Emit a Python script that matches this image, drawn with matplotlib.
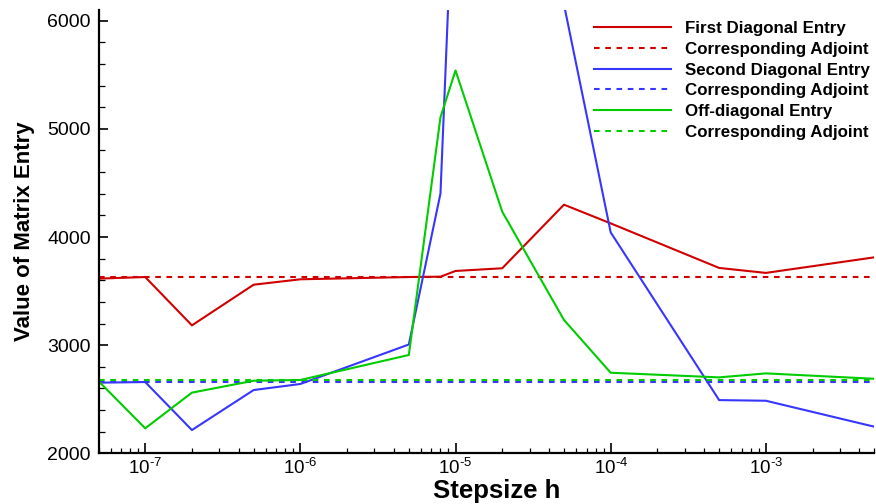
import matplotlib
matplotlib.use("Agg")
import matplotlib.pyplot as plt
from matplotlib.ticker import FixedLocator, FixedFormatter, LogLocator, NullFormatter, MultipleLocator

# ---- data ----
stepsize = [5e-8, 1e-7, 2e-7, 5e-7, 1e-6, 5e-6, 8e-6, 1e-5, 2e-5, 5e-5, 1e-4, 5e-4, 1e-3, 5e-3]
first_diag = [3615, 3630, 3183, 3559, 3609, 3630, 3633, 3686, 3711, 4299, 4126, 3714, 3668, 3812]
second_diag = [2653, 2659, 2215, 2585, 2641, 3006, 4403, 7800, 9000, 6150, 4043, 2492, 2486, 2246]
off_diag = [2668, 2231, 2561, 2671, 2678, 2909, 5108, 5540, 4234, 3233, 2745, 2702, 2739, 2689]
first_adjoint = 3630
second_adjoint = 2662
off_adjoint = 2678

labels = ["First Diagonal Entry", "Corresponding Adjoint",
          "Second Diagonal Entry", "Corresponding Adjoint",
          "Off-diagonal Entry", "Corresponding Adjoint"]
xtick_vals = [1e-7, 1e-6, 1e-5, 1e-4, 1e-3]
xtick_labels = [r"$\mathregular{10^{\text{-}7}}$", r"$\mathregular{10^{\text{-}6}}$", r"$\mathregular{10^{\text{-}5}}$",
                r"$\mathregular{10^{\text{-}4}}$", r"$\mathregular{10^{\text{-}3}}$"]
ytick_vals = [2000, 3000, 4000, 5000, 6000]
ytick_labels = ["2000", "3000", "4000", "5000", "6000"]

plt.rcParams['font.family'] = ['Liberation Sans', 'DejaVu Sans']
plt.rcParams['mathtext.fontset'] = 'custom'
plt.rcParams['mathtext.rm'] = 'Liberation Sans'

RED = '#d00000'
BLUE = '#3636ff'
GREEN = '#00cc00'
DASH = (0, (2.7, 2.7))
LW = 1.5

fig = plt.figure(figsize=(8.76, 5.04), dpi=100)
ax = fig.add_axes([98.5 / 876, 1 - 453.3 / 504, (874.3 - 98.5) / 876, (453.3 - 9.9) / 504])

xmin, xmax = stepsize[0], stepsize[-1]
ax.plot(stepsize, first_diag, color=RED, lw=LW, label=labels[0])
ax.plot([xmin, xmax], [first_adjoint] * 2, color=RED, lw=LW, ls=DASH, label=labels[1])
ax.plot(stepsize, second_diag, color=BLUE, lw=LW, label=labels[2])
ax.plot([xmin, xmax], [second_adjoint] * 2, color=BLUE, lw=LW, ls=DASH, label=labels[3])
ax.plot(stepsize, off_diag, color=GREEN, lw=LW, label=labels[4])
ax.plot([xmin, xmax], [off_adjoint] * 2, color=GREEN, lw=LW, ls=DASH, label=labels[5])

ax.set_xscale('log')
ax.set_xlim(xmin, xmax)
ax.set_ylim(2000, 6100)

ax.xaxis.set_major_locator(FixedLocator(xtick_vals))
ax.xaxis.set_major_formatter(FixedFormatter(xtick_labels))
ax.xaxis.set_minor_locator(LogLocator(base=10, subs=range(2, 10), numticks=20))
ax.xaxis.set_minor_formatter(NullFormatter())
ax.yaxis.set_major_locator(FixedLocator(ytick_vals))
ax.yaxis.set_major_formatter(FixedFormatter(ytick_labels))
ax.yaxis.set_minor_locator(MultipleLocator(200))

for s in ['top', 'right']:
    ax.spines[s].set_visible(False)
for s in ['left', 'bottom']:
    ax.spines[s].set_linewidth(1.6)

ax.tick_params(axis='x', which='major', direction='in', length=7.2, width=1.2, labelsize=13.5, pad=3)
ax.tick_params(axis='x', which='minor', direction='in', length=3.6, width=0.9)
ax.tick_params(axis='y', which='major', direction='in', length=6.7, width=1.2, labelsize=14, pad=5.5)
ax.tick_params(axis='y', which='minor', direction='in', length=4.3, width=0.9)

ax.set_xlabel("Stepsize h", fontsize=18.5, fontweight='bold', labelpad=1)
ax.xaxis.label.set_x((497 - 98.5) / (874.3 - 98.5))
ax.set_ylabel("Value of Matrix Entry", fontsize=16, fontweight='bold', labelpad=9)

leg = ax.legend(loc='upper left', bbox_to_anchor=(594 / 876, 1 - 21 / 504),
                bbox_transform=fig.transFigure, frameon=False,
                prop={'family': 'Liberation Sans', 'weight': 'bold', 'size': 12.2},
                handlelength=4.55, handletextpad=0.8, labelspacing=0.34,
                borderpad=0, borderaxespad=0)

fig.savefig("out.png", dpi=100)
